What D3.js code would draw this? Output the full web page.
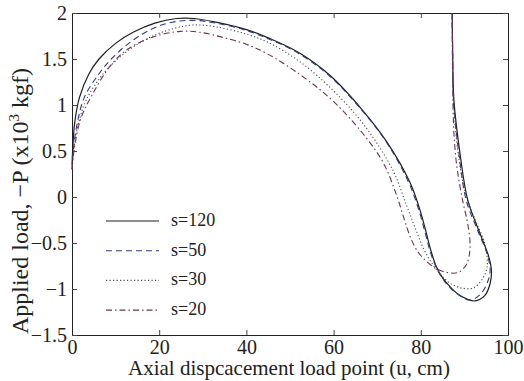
<!DOCTYPE html>
<html><head><meta charset="utf-8">
<script src="https://cdn.jsdelivr.net/npm/d3@7"></script>
<style>body{margin:0;background:#fff}svg{display:block}text{font-family:"Liberation Serif","Times New Roman",serif;fill:#222}</style>
</head><body><svg id="c" width="524" height="381"></svg>
<script>
const xTicks=[0,20,40,60,80,100];
const yTicks=[-1.5,-1,-0.5,0,0.5,1,1.5,2];
const seriesNames=["s=120","s=50","s=30","s=20"];
const s120=[[0,0.35],[0.2,0.55],[0.6,0.8],[1.7,1.08],[3.9,1.34],[6.2,1.5],[10,1.67],[14,1.79],[19,1.89],[24,1.94],[28,1.94],[33,1.9],[40,1.82],[45,1.73],[52,1.57],[59.2,1.32],[66.7,0.94],[72.2,0.6],[77.5,0.16],[79.8,-0.14],[81.2,-0.38],[82.3,-0.58],[83.5,-0.75],[85,-0.88],[86.8,-0.98],[89,-1.07],[92.4,-1.13],[94.7,-1.07],[95.9,-0.94],[96.2,-0.8],[95.6,-0.65],[93.6,-0.4],[90.8,-0.04],[89,0.47],[87.6,1.05],[87.3,1.6],[87.2,2.0]];
const s50=[[0,0.3],[0.4,0.55],[1.2,0.8],[2.8,1.08],[6.2,1.34],[9,1.5],[13,1.67],[18,1.82],[23,1.9],[28,1.92],[33,1.89],[40,1.81],[45,1.72],[52,1.56],[59.2,1.31],[66.7,0.93],[72.2,0.59],[77.3,0.15],[79.6,-0.15],[81,-0.39],[82.2,-0.6],[83.6,-0.77],[85.5,-0.92],[88,-1.04],[91.3,-1.12],[93.8,-1.05],[95.5,-0.9],[95.9,-0.78],[95.2,-0.62],[93.2,-0.38],[90.5,-0.05],[88.8,0.45],[87.5,1.05],[87.3,1.6],[87.2,2.0]];
const s30=[[0,0.3],[0.5,0.55],[1.5,0.8],[3.2,1.05],[6.5,1.3],[10,1.48],[14,1.63],[19,1.76],[24,1.84],[28,1.87],[33,1.85],[40,1.77],[45,1.68],[52,1.48],[59.2,1.19],[66.7,0.8],[73.5,0.3],[76.8,-0.1],[78.9,-0.36],[80.6,-0.56],[82.4,-0.71],[84.5,-0.84],[86.8,-0.94],[89.5,-0.99],[92,-0.99],[94,-0.9],[95.2,-0.76],[94.7,-0.51],[92.5,-0.25],[90.2,0.05],[88.5,0.5],[87.5,1.05],[87.3,1.6],[87.2,2.0]];
const s20=[[0,0.3],[0.6,0.55],[2,0.85],[4.5,1.1],[8.7,1.42],[12.6,1.6],[18.6,1.74],[24.8,1.8],[29.4,1.79],[35,1.73],[40,1.66],[44.7,1.56],[52.3,1.33],[59.5,1.06],[66.7,0.69],[71.3,0.38],[74.3,0.04],[76.2,-0.24],[77.8,-0.46],[79.4,-0.6],[81.3,-0.7],[83.6,-0.78],[86,-0.82],[88.6,-0.82],[90.5,-0.73],[91.3,-0.55],[90.8,-0.3],[89.6,-0.04],[88.3,0.32],[87.6,0.69],[87.3,1.3],[87.2,2.0]];

const svg=d3.select("#c");
const L=72,R=508,T=13,B=335;
const x=d3.scaleLinear().domain([0,100]).range([L,R]);
const y=d3.scaleLinear().domain([-1.5,2]).range([B,T]);
const fmt=v=>String(v).replace("-","\u2212");

const ax=[
 [d3.axisBottom(x).tickValues(xTicks).tickSize(-5).tickPadding(5).tickFormat(fmt),`translate(0,${B})`],
 [d3.axisTop(x).tickValues(xTicks).tickSize(-5).tickFormat(""),`translate(0,${T})`],
 [d3.axisLeft(y).tickValues(yTicks).tickSize(-5).tickPadding(5).tickFormat(fmt),`translate(${L},0)`],
 [d3.axisRight(y).tickValues(yTicks).tickSize(-5).tickFormat(""),`translate(${R},0)`]
];
ax.forEach(([a,tr])=>{
  const g=svg.append("g").attr("transform",tr).call(a);
  g.select(".domain").attr("stroke","#222");
  g.selectAll(".tick line").attr("stroke","#444");
  g.selectAll(".tick text").style("font-size","20px").style("font-family","Liberation Serif").attr("fill","#222");
});

const line=d3.line().x(d=>x(d[0])).y(d=>y(d[1])).curve(d3.curveCatmullRom.alpha(0.5));
const styles=[
 {data:s120,color:"#1e1e1e",dash:null,w:1.2},
 {data:s50,color:"#2f3a7a",dash:"6,4",w:1.1},
 {data:s30,color:"#4a4a55",dash:"1.2,2.3",w:1.1},
 {data:s20,color:"#6a3550",dash:"6,3,1.5,3",w:1.1}
];
const pg=svg.append("g");
styles.forEach(s=>{
  pg.append("path").datum(s.data).attr("d",line).attr("fill","none")
    .attr("stroke",s.color).attr("stroke-width",s.w).attr("stroke-dasharray",s.dash);
});

const lg=svg.append("g");
seriesNames.forEach((n,i)=>{
  const yy=221+i*29.7;
  lg.append("line").attr("x1",106).attr("x2",159).attr("y1",yy).attr("y2",yy)
    .attr("stroke",styles[i].color).attr("stroke-width",styles[i].w).attr("stroke-dasharray",styles[i].dash);
  lg.append("text").attr("x",171).attr("y",yy+5).style("font-size","18px").text(n);
});

svg.append("text").attr("x",(L+R)/2-1).attr("y",375).attr("text-anchor","middle").style("font-size","21px")
  .text("Axial dispcacement load point (u, cm)");
const yl=svg.append("text").attr("transform","translate(28,201) rotate(-90)").attr("text-anchor","middle").style("font-size","24px");
yl.append("tspan").text("Applied load, \u2212P (x10");
yl.append("tspan").attr("dy",-9).style("font-size","15px").text("3");
yl.append("tspan").attr("dy",9).text(" kgf)");
</script></body></html>
